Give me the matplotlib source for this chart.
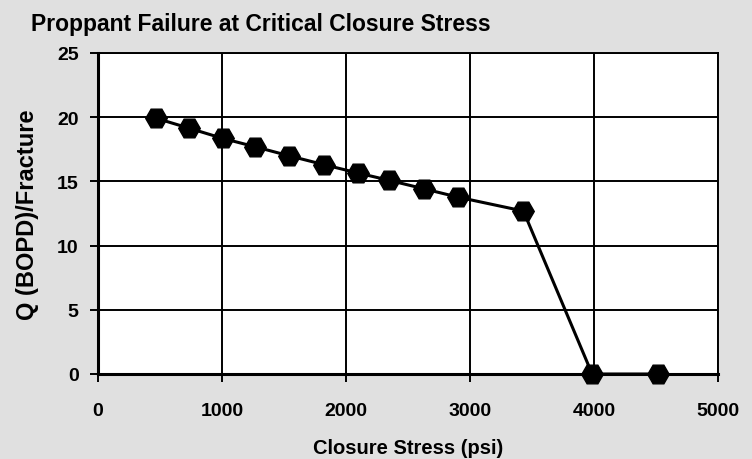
import matplotlib
matplotlib.use("Agg")
import matplotlib.pyplot as plt

closure_stress = [468, 736, 1005, 1266, 1543, 1819, 2094, 2349, 2626, 2900, 3431, 3985, 4514]
q_per_fracture = [19.92, 19.14, 18.35, 17.70, 16.99, 16.31, 15.66, 15.08, 14.43, 13.78, 12.69, 0.0, 0.0]
x_ticks = [0, 1000, 2000, 3000, 4000, 5000]
y_ticks = [0, 5, 10, 15, 20, 25]

plt.rcParams['font.family'] = ['Liberation Sans', 'DejaVu Sans']
plt.rcParams['font.weight'] = 'bold'

fig = plt.figure(figsize=(7.52, 4.60), dpi=100, facecolor='#e0e0e0')
ax = fig.add_axes([98/752, 1-375/460, 620/752, 321/460])
ax.set_facecolor('white')

ax.plot(closure_stress, q_per_fracture, color='black', linewidth=2.2,
        marker='H', markersize=15.5, markerfacecolor='black', markeredgecolor='black',
        zorder=3, clip_on=False)

ax.set_xlim(0, 5000)
ax.set_ylim(0, 25)
ax.set_xticks(x_ticks)
ax.set_yticks(y_ticks)
ax.grid(True, color='black', linewidth=1.4)
ax.set_axisbelow(True)
for side in ['left', 'bottom', 'top', 'right']:
    ax.spines[side].set_linewidth(1.4)
    ax.spines[side].set_color('black')
ax.spines['left'].set_linewidth(2.2)
ax.spines['bottom'].set_linewidth(2.2)
ax.tick_params(axis='both', direction='out', length=6, width=1.4, labelsize=14, color='black')
ax.tick_params(axis='x', pad=14)
ax.tick_params(axis='y', pad=8)
for lbl in ax.get_xticklabels() + ax.get_yticklabels():
    lbl.set_fontweight('bold')

ax.set_xlabel('Closure Stress (psi)', fontsize=14.5, fontweight='bold', labelpad=14)
ax.set_ylabel('Q (BOPD)/Fracture', fontsize=17, fontweight='bold', labelpad=13)
fig.text(261/752, 1-25/460, 'Proppant Failure at Critical Closure Stress',
         ha='center', va='center', fontsize=16.5, fontweight='bold')

fig.savefig('out.png', dpi=100, facecolor=fig.get_facecolor())
